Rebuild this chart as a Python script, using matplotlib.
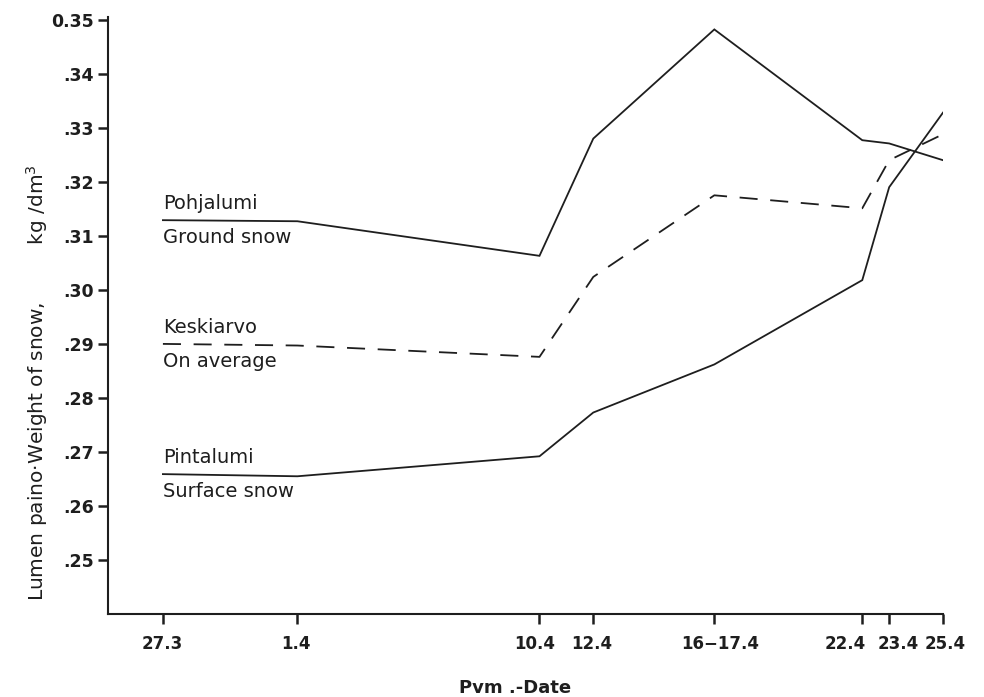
import matplotlib
matplotlib.use("Agg")
import matplotlib.pyplot as plt

# Dates (day number counted from 27 March) and their tick labels
days = [0, 5, 14, 16, 20.5, 26, 27, 29]
date_labels = ["27.3", "1.4", "10.4", "12.4", "16\u221217.4", "22.4", "23.4", "25.4"]

# Weight of snow, kg/dm3
pohjalumi = [0.3129, 0.3127, 0.3063, 0.3280, 0.3482, 0.3277, 0.3271, 0.3240]
keskiarvo = [0.2900, 0.2897, 0.2876, 0.3024, 0.3175, 0.3151, 0.3240, 0.3288]
pintalumi = [0.2659, 0.2655, 0.2692, 0.2773, 0.2862, 0.3018, 0.3190, 0.3328]

yticks = [0.25, 0.26, 0.27, 0.28, 0.29, 0.30, 0.31, 0.32, 0.33, 0.34, 0.35]
ytick_labels = [".25", ".26", ".27", ".28", ".29", ".30", ".31", ".32", ".33", ".34", "0.35"]

series = [
    ("Pohjalumi", "Ground snow", pohjalumi, "-"),
    ("Keskiarvo", "On average", keskiarvo, (0, (10, 7))),
    ("Pintalumi", "Surface snow", pintalumi, "-"),
]

# hand-lettered horizontal shifts of the date labels (points)
label_shift = [-0.7, -0.7, -3.6, -1.4, 4.3, -12.2, 6.5, 1.4]

ink = "#1e1e1e"
plt.rcParams["font.family"] = ["DejaVu Sans"]

fig = plt.figure(figsize=(9.84, 6.97), dpi=100)
ax = fig.add_axes([0.1098, 0.119, 0.8485, 0.8566])

for top, bottom, vals, ls in series:
    ax.plot(days, vals, color=ink, lw=1.3, linestyle=ls, solid_joinstyle="miter")
    ax.annotate(top, (days[0], vals[0]), xytext=(0, 5), textcoords="offset points",
                ha="left", va="bottom", fontsize=14, color=ink)
    ax.annotate(bottom, (days[0], vals[0]), xytext=(0, -6), textcoords="offset points",
                ha="left", va="top", fontsize=14, color=ink)

ax.set_xlim(-2.04, 29)
ax.set_ylim(0.24, 0.3505)
ax.set_xticks(days)
ax.set_xticklabels([])
for d, lab, dx in zip(days, date_labels, label_shift):
    ax.annotate(lab, (d, 0), xycoords=("data", "axes fraction"),
                xytext=(dx, -25.2), textcoords="offset points",
                ha="center", va="baseline", fontsize=12, fontweight="bold",
                color=ink, annotation_clip=False)
ax.set_yticks(yticks)
ax.set_yticklabels(ytick_labels, fontsize=12.5, fontweight="bold", color=ink)

for s in ["top", "right"]:
    ax.spines[s].set_visible(False)
for s in ["left", "bottom"]:
    ax.spines[s].set_linewidth(1.5)
    ax.spines[s].set_color(ink)
ax.tick_params(axis="both", direction="out", length=7.5, width=1.8, color=ink)
ax.tick_params(axis="y", pad=2.5)

ax.set_ylabel("Lumen paino\u00b7Weight of snow,         kg /dm$^3$", fontsize=14.5, color=ink)
ax.yaxis.set_label_coords(-0.085, 0.387)
ax.yaxis.label.set_va("center")
ax.set_xlabel("Pvm .-Date", fontsize=13, fontweight="bold", color=ink)
ax.xaxis.set_label_coords(0.487, -0.124)
ax.xaxis.label.set_va("center")

fig.savefig("out.png", dpi=100)
